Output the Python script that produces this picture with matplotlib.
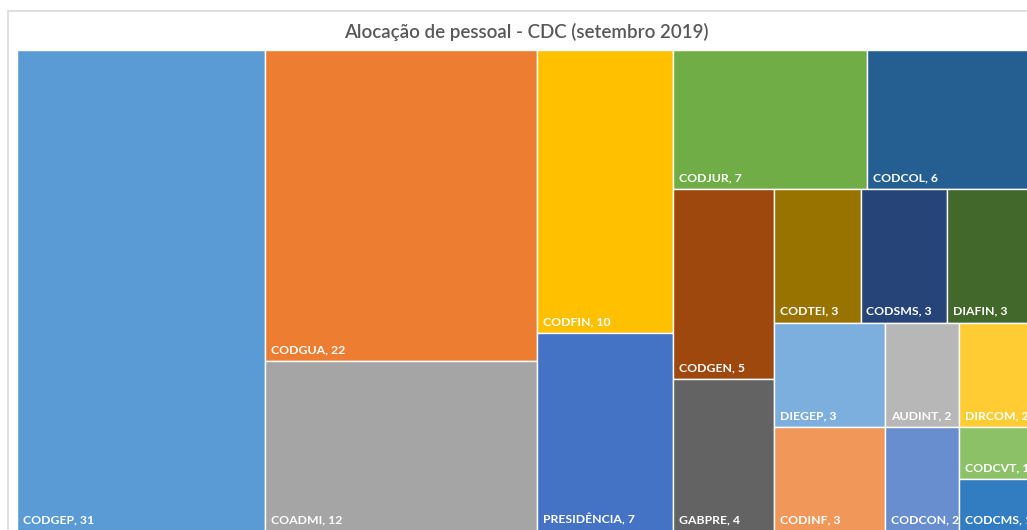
import matplotlib.pyplot as plt
from matplotlib.patches import Rectangle

# data (sorted as in the Excel treemap)
labels = ['CODGEP', 'CODGUA', 'COADMI', 'CODFIN', 'PRESIDÊNCIA', 'CODJUR', 'CODCOL',
          'CODGEN', 'GABPRE', 'CODTEI', 'CODSMS', 'DIAFIN', 'DIEGEP', 'CODINF',
          'AUDINT', 'DIRCOM', 'CODCON', 'CODCVT', 'CODCMS']
values = [31, 22, 12, 10, 7, 7, 6, 5, 4, 3, 3, 3, 3, 3, 2, 2, 2, 1, 1]
colors = ['#5B9BD5', '#ED7D31', '#A5A5A5', '#FFC000', '#4472C4', '#70AD47', '#255E91',
          '#9E480E', '#636363', '#997300', '#264478', '#43682B', '#7CAFDD', '#F1975A',
          '#B7B7B7', '#FFCD33', '#698ED0', '#8CC168', '#327DC2']

# number of tiles in each strip of the layout (Excel's grouping)
strips = [1, 2, 2, 2, 2, 3, 2, 2, 1, 1, 1]

W, H = 1016.0, 481.0  # plot area size (px)


def strip_layout(vals, groups, x0, y0, w, h):
    ''' squarified-style layout: each strip runs along the shorter side '''
    scale = w * h / sum(vals)
    rects = []
    i = 0
    for n in groups:
        grp = vals[i:i + n]
        s = sum(grp)
        if w >= h:
            t = s * scale / h
            yy = y0
            for v in grp:
                hh = v * scale / t
                rects.append((x0, yy, t, hh))
                yy += hh
            x0 += t
            w -= t
        else:
            t = s * scale / w
            xx = x0
            for v in grp:
                ww = v * scale / t
                rects.append((xx, y0, ww, t))
                xx += ww
            y0 += t
            h -= t
        i += n
    return rects


fig = plt.figure(figsize=(10.27, 5.30), dpi=100)
fig.patch.set_facecolor('white')

# chart border (cut at right / bottom like the screenshot)
fig.add_artist(Rectangle((8 / 1027, -0.1), 1.2, 1 - 11 / 530 + 0.1, transform=fig.transFigure,
                         facecolor='none', edgecolor='#D9D9D9', linewidth=1.2))

ax = fig.add_axes([17 / 1027, -1 / 530, W / 1027, H / 530])
ax.set_xlim(0, W)
ax.set_ylim(H, 0)
ax.axis('off')

rects = strip_layout(values, strips, 0, 0, W, H)
for (x, y, w, h), lab, v, c in zip(rects, labels, values, colors):
    ax.add_patch(Rectangle((x, y), w, h, facecolor=c, edgecolor='white', linewidth=1.0))
    ax.annotate('%s, %d' % (lab, v), xy=(x, y + h), xytext=(4.3, 5.8), textcoords='offset points',
                ha='left', va='baseline', color='white', fontsize=8.8, fontweight='bold',
                fontfamily='Lato', annotation_clip=False)

fig.text(526 / 1027, 1 - 32 / 530, 'Alocação de pessoal - CDC (setembro 2019)', ha='center', va='center',
         color='#595959', fontsize=13.5, fontweight='semibold', fontfamily='Lato')

fig.savefig('out.png', dpi=100)
